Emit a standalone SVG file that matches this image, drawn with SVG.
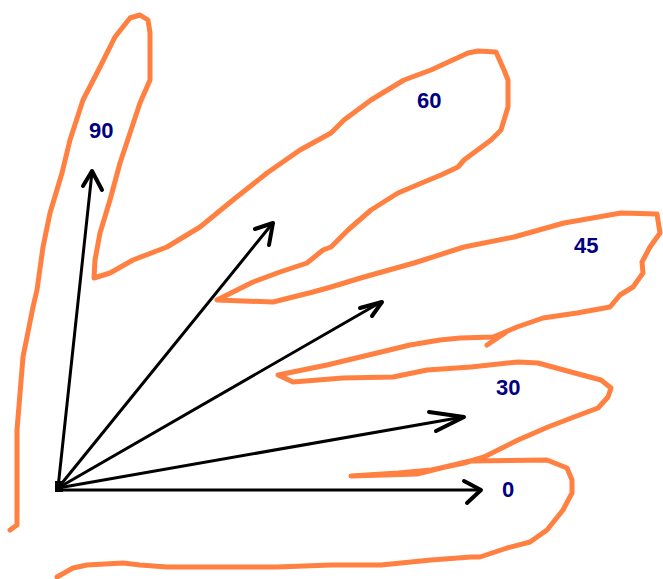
<svg xmlns="http://www.w3.org/2000/svg" width="663" height="579" viewBox="0 0 663 579">
<style>
.outline{fill:none;stroke:#FF8040;stroke-width:5;stroke-linejoin:round;stroke-linecap:round}
.shaft{fill:none;stroke:#000;stroke-width:3;stroke-linecap:round;stroke-linejoin:round}
.head{fill:none;stroke:#000;stroke-width:4;stroke-linecap:round;stroke-linejoin:round}
.lbl{font-family:"Liberation Sans",Arial,sans-serif;font-weight:bold;font-size:22px;fill:#000080}
</style>
<rect width="663" height="579" fill="#fff"/>
<g id="outline">
<path class="outline" d="M10,530 L17,525 L17,460 L17,430 L23,357 L33,307 L37,290 L43,247 L50,213 L62,173 L70,140 L83,100 L100,67 L115,37 L130,18 L140,15 L148,20 L150,33 L150,80 L140,103 L130,133 L120,163 L110,200 L100,233 L95,260 L94,278 L110,273 L133,260 L167,247 L200,227 L233,200 L267,173 L300,150 L331,133 L344,120 L371,100 L404,80 L431,70 L468,53 L478,51 L496,52 L504,70 L508,80 L508,107 L501,130 L491,140 L464,160 L458,167 L441,175 L424,182 L398,193 L371,210 L348,230 L331,247 L323,250 L307,263 L280,272 L253,282 L217,300 L273,302 L313,292 L331,287 L364,277 L414,263 L464,247 L514,237 L564,223 L621,213 L657,214 L660,233 L650,247 L642,262 L643,273 L633,287 L620,295 L610,307 L577,313 L543,318 L517,327 L503,333 L493,337 L460,338 L440,340 L410,345 L377,353 L327,365 L278,375 L293,382 L343,378 L393,377 L427,370 L471,367 L518,362 L538,363 L571,372 L601,380 L611,388 L608,397 L598,408 L574,417 L548,427 L518,440 L484,457 L464,463 L431,470 L398,473 L351,476 L417,474 L445,467 L470,461 L547,460 L567,468 L572,480 L572,493 L563,510 L547,530 L530,542 L507,548 L480,557 L471,557 L431,560 L381,565 L331,565 L277,567 L167,567 L140,565 L123,563 L87,565 L73,568 L57,577"/>
<path class="outline" d="M505,333 L487,345"/>
</g>
<g id="connectors">
<rect x="55" y="481" width="8" height="11" fill="#000"/>
<g id="arrow-0"><path class="shaft" d="M58,490 L480,490"/><polyline class="head" points="464,481 481,490 467,503"/></g>
<g id="arrow-30"><path class="shaft" d="M58,488 L463,417"/><polyline class="head" points="429,412 464,417 436,431"/></g>
<g id="arrow-45"><path class="shaft" d="M58,488 L381,302"/><polyline class="head" points="360,308 382,302 372,316"/></g>
<g id="arrow-60"><path class="shaft" d="M58,488 L272,224"/><polyline class="head" points="255,229 273,223 269,245"/></g>
<g id="arrow-90"><path class="shaft" d="M58,488 L92,172"/><polyline class="head" points="83,186 92,171 102,190"/></g>
</g>
<g id="labels">
<text class="lbl" x="89" y="138">90</text>
<text class="lbl" x="417" y="108">60</text>
<text class="lbl" x="574" y="253">45</text>
<text class="lbl" x="496" y="395">30</text>
<text class="lbl" x="502" y="497">0</text>
</g>
</svg>
